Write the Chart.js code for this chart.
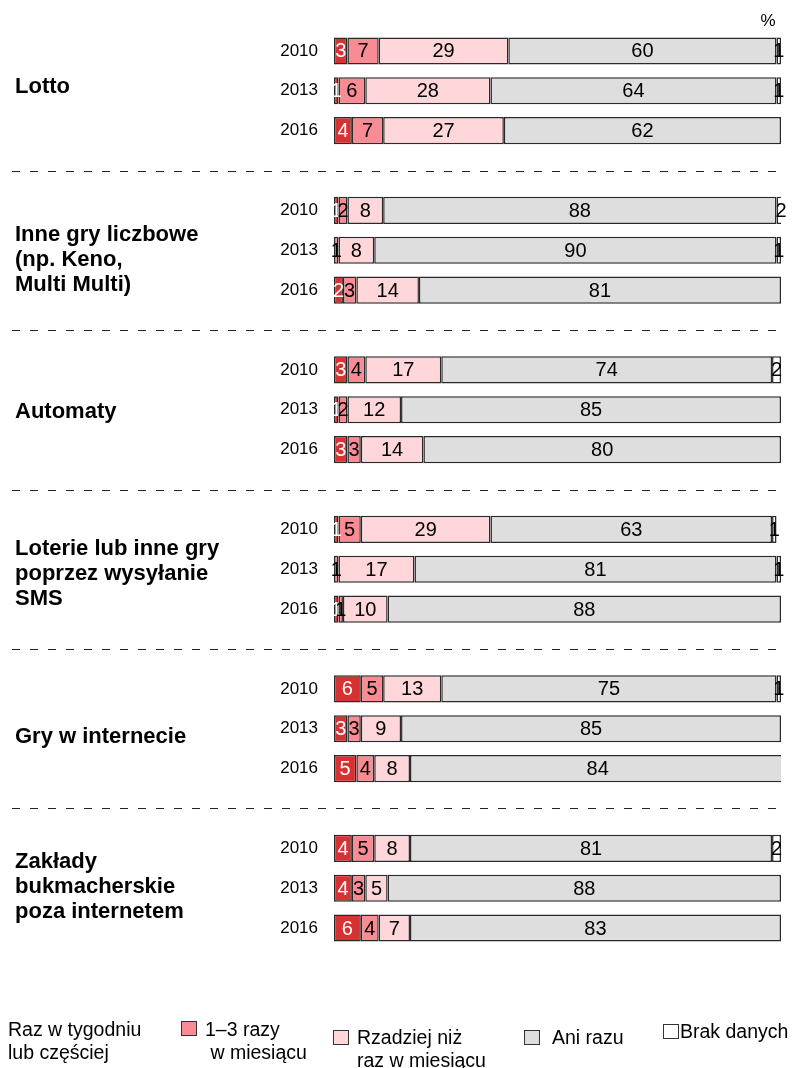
<!DOCTYPE html>
<html>
<head>
<meta charset="utf-8">
<script src="https://cdn.jsdelivr.net/npm/chart.js@4"></script>
<style>
  html, body { margin: 0; padding: 0; background: #fff; }
  #wrap { position: relative; width: 800px; height: 1068px; }
  #legend { position: absolute; left: 0; top: 0; width: 800px; height: 1068px;
            font-family: "Liberation Sans", Arial, sans-serif; font-size: 19.5px; color: #000; }
  .lg-text { position: absolute; line-height: 23px; white-space: nowrap; }
  .lg-box { position: absolute; width: 14px; height: 13px; border: 1px solid #333; }
</style>
</head>
<body>
<div id="wrap">
  <canvas id="chart" width="800" height="1068"></canvas>
  <div id="legend">
    <div class="lg-text" style="left:8px;top:1018px">Raz w tygodniu<br>lub częściej</div>
    <div class="lg-box" style="left:181px;top:1021px;background:#f88b93"></div>
    <div class="lg-text" style="left:205px;top:1018px">1–3 razy<br>&nbsp;w miesiącu</div>
    <div class="lg-box" style="left:333px;top:1030px;background:#ffd6d9"></div>
    <div class="lg-text" style="left:357px;top:1026px">Rzadziej niż<br>raz w miesiącu</div>
    <div class="lg-box" style="left:524px;top:1030px;background:#dedede"></div>
    <div class="lg-text" style="left:552px;top:1026px">Ani razu</div>
    <div class="lg-box" style="left:663px;top:1024px;background:#ffffff"></div>
    <div class="lg-text" style="left:680px;top:1020px">Brak danych</div>
  </div>
</div>
<script>
// groups of games, each surveyed in three years
const groups = [
  ['Lotto'],
  ['Inne gry liczbowe', '(np. Keno,', 'Multi Multi)'],
  ['Automaty'],
  ['Loterie lub inne gry', 'poprzez wysyłanie', 'SMS'],
  ['Gry w internecie'],
  ['Zakłady', 'bukmacherskie', 'poza internetem']
];
const years = ['2010', '2013', '2016'];

// % per bar, in order group by group, 2010/2013/2016
const weekly  = [3, 1, 4,   1, 0, 2,   3, 1, 3,   1, 0, 1,   6, 3, 5,   4, 4, 6];
const monthly = [7, 6, 7,   2, 1, 3,   4, 2, 3,   5, 1, 1,   5, 3, 4,   5, 3, 4];
const rarely  = [29, 28, 27, 8, 8, 14, 17, 12, 14, 29, 17, 10, 13, 9, 8,  8, 5, 7];
const never   = [60, 64, 62, 88, 90, 81, 74, 85, 80, 63, 81, 88, 75, 85, 84, 81, 88, 83];
const noData  = [1, 1, 0,   2, 1, 0,   2, 0, 0,   1, 1, 0,   1, 0, 0,   2, 0, 0];

const seriesNames = ['Raz w tygodniu lub częściej', '1–3 razy w miesiącu',
                     'Rzadziej niż raz w miesiącu', 'Ani razu', 'Brak danych'];
const seriesColors = ['#d83131', '#f88b93', '#ffd6d9', '#dedede', '#ffffff'];

// rows on the y axis: 3 years per group, one empty slot between groups
const rowLabels = [];
const rowIndex = [];      // row -> bar index or null
const sepRows = [];
groups.forEach(function (g, gi) {
  years.forEach(function (y, yi) {
    rowLabels.push(y);
    rowIndex.push(gi * 3 + yi);
  });
  if (gi < groups.length - 1) {
    sepRows.push(rowLabels.length);
    rowLabels.push('');
    rowIndex.push(null);
  }
});

function spread(values) {
  return rowIndex.map(function (i) {
    if (i === null) return null;
    return values[i] > 0 ? values[i] : null;
  });
}

const datasets = [weekly, monthly, rarely, never, noData].map(function (vals, k) {
  return {
    label: seriesNames[k],
    data: spread(vals),
    backgroundColor: seriesColors[k],
    borderColor: '#2a2a2a',
    borderWidth: 1.5,
    borderSkipped: false,
    barPercentage: 0.68,
    categoryPercentage: 1
  };
});

// small vertical nudges for the group titles
const titleNudge = [-4, 10, 2, 5, 8, -1];

const extras = {
  id: 'extras',
  beforeDatasetsDraw: function (chart) {
    const ctx = chart.ctx;
    const ys = chart.scales.y;
    ctx.save();
    ctx.strokeStyle = '#222';
    ctx.lineWidth = 1;
    ctx.setLineDash([8, 10]);
    sepRows.forEach(function (r) {
      const y = Math.round(ys.getPixelForValue(r)) + 0.5;
      ctx.beginPath();
      ctx.moveTo(12, y);
      ctx.lineTo(780, y);
      ctx.stroke();
    });
    ctx.restore();
  },
  afterDatasetsDraw: function (chart) {
    const ctx = chart.ctx;
    const ys = chart.scales.y;
    ctx.save();
    ctx.font = '20px "Liberation Sans", Arial, sans-serif';
    ctx.textAlign = 'center';
    ctx.textBaseline = 'middle';
    chart.data.datasets.forEach(function (ds, k) {
      const meta = chart.getDatasetMeta(k);
      meta.data.forEach(function (el, i) {
        const v = ds.data[i];
        if (v === null) return;
        ctx.fillStyle = k === 0 ? '#fff' : '#000';
        ctx.fillText(String(v), (el.x + el.base) / 2, el.y + 1);
      });
    });

    // group titles
    ctx.font = 'bold 22px "Liberation Sans", Arial, sans-serif';
    ctx.textAlign = 'left';
    ctx.fillStyle = '#000';
    groups.forEach(function (lines, gi) {
      const mid = ys.getPixelForValue(gi * 4 + 1) + titleNudge[gi];
      const lh = 25;
      lines.forEach(function (t, li) {
        ctx.fillText(t, 15, mid + (li - (lines.length - 1) / 2) * lh);
      });
    });

    ctx.font = '17px "Liberation Sans", Arial, sans-serif';
    ctx.textAlign = 'center';
    ctx.fillText('%', chart.chartArea.right - 13, 21);
    ctx.restore();
  }
};

new Chart(document.getElementById('chart'), {
  type: 'bar',
  data: { labels: rowLabels, datasets: datasets },
  options: {
    indexAxis: 'y',
    responsive: false,
    animation: false,
    layout: { padding: { top: 31, right: 19, bottom: 120, left: 0 } },
    plugins: { legend: { display: false }, tooltip: { enabled: false } },
    scales: {
      x: { stacked: true, min: 0, max: 100, display: false },
      y: {
        stacked: true,
        grid: { display: false, drawTicks: false },
        border: { display: false },
        ticks: {
          autoSkip: false,
          padding: 16,
          color: '#000',
          font: { family: '"Liberation Sans", Arial, sans-serif', size: 17 }
        },
        afterFit: function (scale) { scale.width = 334; }
      }
    }
  },
  plugins: [extras]
});
</script>
</body>
</html>
